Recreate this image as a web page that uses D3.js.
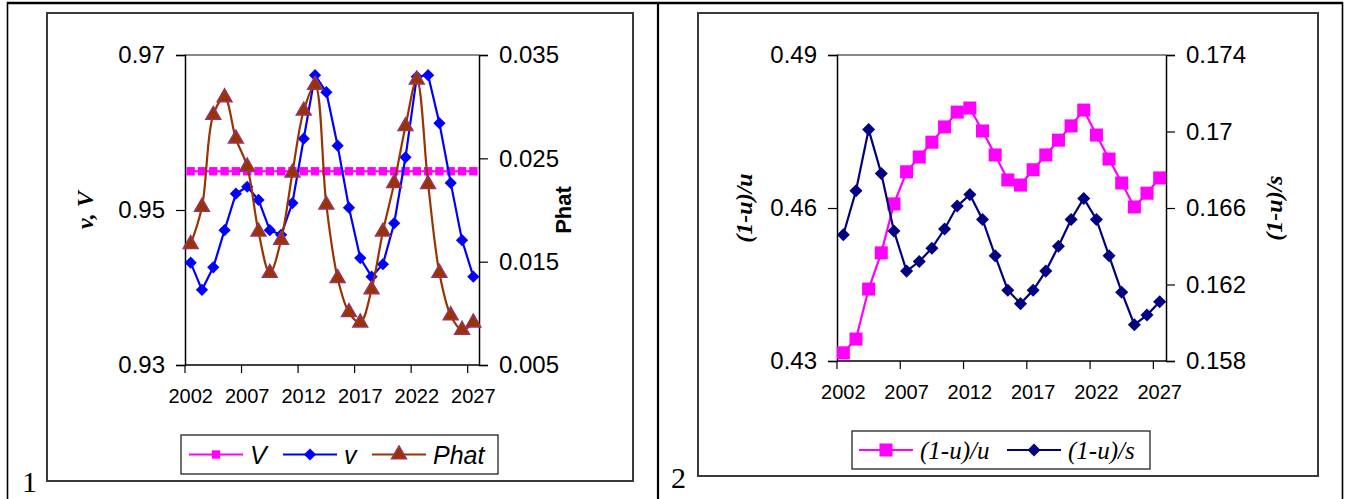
<!DOCTYPE html>
<html>
<head>
<meta charset="utf-8">
<script src="https://cdn.jsdelivr.net/npm/d3@7"></script>
<style>
  body { margin: 0; background: #fff; }
  svg text { fill: #000; }
</style>
</head>
<body>
<svg id="page" width="1349" height="499"></svg>
<script>
// categories
var years = [2002, 2003, 2004, 2005, 2006, 2007, 2008, 2009, 2010, 2011, 2012, 2013, 2014,
             2015, 2016, 2017, 2018, 2019, 2020, 2021, 2022, 2023, 2024, 2025, 2026, 2027];
var yearLabels = [2002, 2007, 2012, 2017, 2022, 2027];
var yearTicks = [2002, 2007, 2012, 2017, 2022, 2027];

// chart 1
var seriesV = [0.955, 0.955, 0.955, 0.955, 0.955, 0.955, 0.955, 0.955, 0.955, 0.955, 0.955, 0.955, 0.955,
               0.955, 0.955, 0.955, 0.955, 0.955, 0.955, 0.955, 0.955, 0.955, 0.955, 0.955, 0.955, 0.955];
var seriesv = [0.9432, 0.9397, 0.9426, 0.9474, 0.9521, 0.9530, 0.9513, 0.9474, 0.9468, 0.9509, 0.9592, 0.9674, 0.9652,
               0.9583, 0.9503, 0.9438, 0.9414, 0.9430, 0.9483, 0.9568, 0.9672, 0.9674, 0.9612, 0.9535, 0.9461, 0.9414];
var seriesPhat = [0.0167, 0.0203, 0.0292, 0.0309, 0.0269, 0.0242, 0.0179, 0.0139, 0.0171, 0.0236, 0.0296, 0.0321, 0.0205,
                  0.0134, 0.0101, 0.0091, 0.0123, 0.0179, 0.0226, 0.0281, 0.0326, 0.0225, 0.0139, 0.0098, 0.0084, 0.0091];
var ticksV = [0.93, 0.95, 0.97];
var ticksPhat = [0.005, 0.015, 0.025, 0.035];

// chart 2
var seriesU = [0.4316, 0.4343, 0.4441, 0.4512, 0.4608, 0.4671, 0.4700, 0.4729, 0.4759, 0.4788, 0.4796, 0.4751, 0.4704,
               0.4655, 0.4645, 0.4675, 0.4704, 0.4733, 0.4761, 0.4792, 0.4743, 0.4696, 0.4649, 0.4602, 0.4629, 0.4659];
var seriesS = [0.1646, 0.1669, 0.1701, 0.1678, 0.1648, 0.1627, 0.1632, 0.1639, 0.1649, 0.1661, 0.1667, 0.1654, 0.1635,
               0.1617, 0.1610, 0.1617, 0.1627, 0.1640, 0.1654, 0.1665, 0.1654, 0.1635, 0.1616, 0.1599, 0.1604, 0.1611];
var ticksU = [0.43, 0.46, 0.49];
var ticksS = [0.158, 0.162, 0.166, 0.17, 0.174];

var svg = d3.select("#page");

// table lines round the two cells
svg.append("line").attr("x1", 7).attr("x2", 1343).attr("y1", 3).attr("y2", 3)
   .attr("stroke", "#000").attr("stroke-width", 2.5);
[7.5, 658, 1342.5].forEach(function(x, i) {
  svg.append("line").attr("x1", x).attr("x2", x).attr("y1", 2).attr("y2", 499)
     .attr("stroke", "#000").attr("stroke-width", i == 1 ? 2.2 : 1.6);
});

function marker(type, size) {
  if (type == "square") return d3.symbol(d3.symbolSquare, size)();
  if (type == "diamond") return d3.symbol(d3.symbolSquare, size)();
  return d3.symbol(d3.symbolTriangle, size)();
}

function drawPanel(cfg) {
  // chart frame
  svg.append("rect")
     .attr("x", cfg.frame[0]).attr("y", cfg.frame[1])
     .attr("width", cfg.frame[2] - cfg.frame[0]).attr("height", cfg.frame[3] - cfg.frame[1])
     .attr("fill", "none").attr("stroke", "#3a3a3a").attr("stroke-width", 2);

  svg.append("text").attr("x", cfg.num[0]).attr("y", cfg.num[1])
     .style("font-family", "Liberation Serif, Times New Roman, serif").style("font-size", "30px")
     .text(cfg.numText);

  var x = d3.scaleBand().domain(years).range([cfg.left, cfg.right]).padding(0);
  var yL = d3.scaleLinear().domain(cfg.domL).range([cfg.bottom, cfg.top]);
  var yR = d3.scaleLinear().domain(cfg.domR).range([cfg.bottom, cfg.top]);

  var g = svg.append("g");

  // gray top border of the plot area
  g.append("line").attr("x1", cfg.left).attr("x2", cfg.right)
   .attr("y1", cfg.top).attr("y2", cfg.top)
   .attr("stroke", "#888").attr("stroke-width", 2);

  var axisL = g.append("g").attr("transform", "translate(" + cfg.left + ",0)")
    .call(d3.axisLeft(yL).tickValues(cfg.ticksL).tickSize(9).tickPadding(11)
      .tickFormat(function(d) { return String(d); }));
  var axisR = g.append("g").attr("transform", "translate(" + cfg.right + ",0)")
    .call(d3.axisRight(yR).tickValues(cfg.ticksR).tickSize(9).tickPadding(11)
      .tickFormat(function(d) { return String(d); }));
  [axisL, axisR].forEach(function(a) {
    a.selectAll("text").style("font-family", "Liberation Sans, Arial, sans-serif").style("font-size", "24px");
    a.select(".domain").attr("stroke-width", 1.5);
    a.selectAll(".tick line").attr("stroke-width", 1.2);
  });

  // x axis: ticks between categories, labels at category centres
  var xAxis = g.append("g").attr("transform", "translate(0," + cfg.bottom + ")");
  xAxis.append("line").attr("x1", cfg.left).attr("x2", cfg.right)
       .attr("stroke", "#000").attr("stroke-width", 1.5);
  xAxis.selectAll(".xt").data(yearTicks).enter().append("line")
       .attr("x1", function(d) { return x(d); }).attr("x2", function(d) { return x(d); })
       .attr("y1", 0).attr("y2", 8).attr("stroke", "#000").attr("stroke-width", 1.2);
  xAxis.selectAll(".xl").data(yearLabels).enter().append("text")
       .attr("x", function(d) { return x(d) + x.bandwidth() / 2; })
       .attr("y", 38).attr("text-anchor", "middle")
       .style("font-family", "Liberation Sans, Arial, sans-serif").style("font-size", "20px")
       .text(function(d) { return d; });

  // axis titles
  cfg.titles.forEach(function(t) {
    svg.append("text")
       .attr("transform", "translate(" + t.x + "," + t.y + ") rotate(-90)")
       .attr("text-anchor", "middle")
       .style("font-family", t.font).style("font-size", t.size)
       .style("font-weight", "bold").style("font-style", t.italic ? "italic" : "normal")
       .text(t.text);
  });

  // series
  cfg.series.forEach(function(s) {
    var y = s.axis == "L" ? yL : yR;
    var line = d3.line()
      .x(function(d, i) { return x(years[i]) + x.bandwidth() / 2; })
      .y(function(d) { return y(d); });
    if (s.smooth) line.curve(d3.curveCatmullRom.alpha(0.5));
    g.append("path").datum(s.values).attr("d", line)
     .attr("fill", "none").attr("stroke", s.color).attr("stroke-width", 2.2);
    g.selectAll(null).data(s.values).enter().append("path")
     .attr("d", marker(s.marker, s.size))
     .attr("transform", function(d, i) {
       return "translate(" + (x(years[i]) + x.bandwidth() / 2) + "," + y(d) + ")" +
              (s.marker == "diamond" ? " rotate(45)" : "");
     })
     .attr("fill", s.fill).attr("stroke", s.stroke).attr("stroke-width", s.marker == "triangle" ? 1.5 : 0);
  });

  // legend
  var L = cfg.legend;
  svg.append("rect").attr("x", L.x).attr("y", L.y).attr("width", L.w).attr("height", L.h)
     .attr("fill", "#fff").attr("stroke", "#222").attr("stroke-width", 1.3);
  cfg.series.forEach(function(s, i) {
    var lx = L.items[i];
    var cy = L.y + L.h / 2;
    svg.append("line").attr("x1", lx).attr("x2", lx + 54).attr("y1", cy).attr("y2", cy)
       .attr("stroke", s.color).attr("stroke-width", 2.2);
    svg.append("path").attr("d", marker(s.marker, s.size))
       .attr("transform", "translate(" + (lx + 27) + "," + cy + ")" + (s.marker == "diamond" ? " rotate(45)" : ""))
       .attr("fill", s.fill).attr("stroke", s.stroke).attr("stroke-width", s.marker == "triangle" ? 1.5 : 0);
    svg.append("text").attr("x", lx + 61).attr("y", cy + 9)
       .style("font-family", L.font).style("font-size", "25px").style("font-style", "italic")
       .text(s.name);
  });
}

drawPanel({
  frame: [47, 13, 633, 481],
  num: [22, 492], numText: "1",
  left: 185, right: 479, top: 55, bottom: 365,
  domL: [0.93, 0.97], ticksL: ticksV,
  domR: [0.005, 0.035], ticksR: ticksPhat,
  titles: [
    { text: "v, V", x: 93, y: 210, font: "Liberation Serif, Times New Roman, serif", size: "24px", italic: true },
    { text: "Phat", x: 571, y: 210, font: "Liberation Sans, Arial, sans-serif", size: "22px", italic: false }
  ],
  series: [
    { name: "V", values: seriesV, axis: "L", color: "#ff00ff", marker: "square", size: 70, fill: "#ff00ff", stroke: "none" },
    { name: "v", values: seriesv, axis: "L", color: "#0000ff", marker: "diamond", size: 75, fill: "#0000ff", stroke: "none" },
    { name: "Phat", values: seriesPhat, axis: "R", color: "#993300", marker: "triangle", size: 95, fill: "#993300", stroke: "#993366", smooth: true }
  ],
  legend: { x: 181, y: 435, w: 317, h: 39, items: [189, 283, 372], font: "Liberation Sans, Arial, sans-serif" }
});

drawPanel({
  frame: [698, 13, 1318, 476],
  num: [671, 488], numText: "2",
  left: 837, right: 1166, top: 55, bottom: 361,
  domL: [0.43, 0.49], ticksL: ticksU,
  domR: [0.158, 0.174], ticksR: ticksS,
  titles: [
    { text: "(1-u)/u", x: 752, y: 208, font: "Liberation Serif, Times New Roman, serif", size: "24px", italic: true },
    { text: "(1-u)/s", x: 1282, y: 208, font: "Liberation Serif, Times New Roman, serif", size: "24px", italic: true }
  ],
  series: [
    { name: "(1-u)/u", values: seriesU, axis: "L", color: "#ff00ff", marker: "square", size: 170, fill: "#ff00ff", stroke: "none" },
    { name: "(1-u)/s", values: seriesS, axis: "R", color: "#000080", marker: "diamond", size: 85, fill: "#000080", stroke: "none" }
  ],
  legend: { x: 852, y: 431, w: 298, h: 38, items: [859, 1007], font: "Liberation Serif, Times New Roman, serif" }
});
</script>
</body>
</html>
